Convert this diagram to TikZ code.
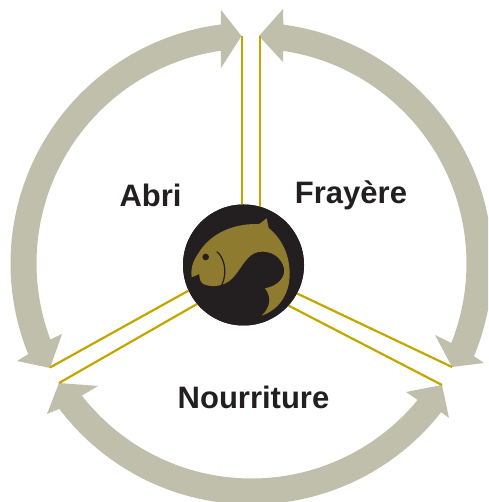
\documentclass[tikz,border=0pt]{standalone}
\usepackage{xcolor}
\usepackage{fontspec}
\setmainfont{Liberation Sans}
\usetikzlibrary{positioning}
\definecolor{ringgrey}{HTML}{BFBFAC}
\definecolor{linegold}{HTML}{C4A600}
\definecolor{fishgold}{HTML}{8E7B2F}
\definecolor{hubblack}{HTML}{231F20}

\begin{document}
\begin{tikzpicture}[
        x=1pt, y=1pt,
        hub/.style={circle, fill=hubblack, minimum size=121pt, inner sep=0pt},
        label/.style={font=\fontsize{31}{36}\selectfont\bfseries, text=hubblack, inner sep=0pt},
        rail/.style={draw=linegold, line width=2.2pt},
        ringarc/.style={fill=ringgrey}
    ]
    \useasboundingbox (0,0) rectangle (488,502);
    \clip (0,0) rectangle (488,502);
    \coordinate (c) at (251.5,238.5);

    % Ring arcs
    \fill[ringarc] (241.5,466) -- (221,492) -- ([shift={(97.3:241)}]c) arc[start angle=97.3, end angle=202.1, radius=241]
        -- (17,141) -- (50,134) -- (62,168) -- ([shift={(200.7:215)}]c) arc[start angle=200.7, end angle=98.2, radius=215]
        -- (221,434) -- cycle;
    \fill[ringarc] (259,466) -- (283,493) -- ([shift={(82.4:241)}]c) arc[start angle=82.4, end angle=-22.6, radius=241]
        -- (484,139) -- (452,135) -- (435,167) -- ([shift={(-21.7:215)}]c) arc[start angle=-21.7, end angle=81.5, radius=215]
        -- (283,440) -- cycle;
    \fill[ringarc] (59,119) -- (98,116) -- ([shift={(217.9:215)}]c) arc[start angle=217.9, end angle=320.6, radius=215]
        -- (406,110) -- (442,117) -- (449,84) -- ([shift={(321.9:241)}]c) arc[start angle=321.9, end angle=217.1, radius=241]
        -- (47,88) -- cycle;

    % Hub and rails
    \coordinate (topa) at (242,466);
    \coordinate (topb) at (260,466);
    \coordinate (lefta) at (50,134.5);
    \coordinate (leftb) at (59,119);
    \coordinate (righta) at (452,135);
    \coordinate (rightb) at (442,117);
    \node[hub] (fishhub) at (243.5,237) {};
    \draw[rail] (topa) -- (fishhub.center -| topa);
    \draw[rail] (topb) -- (fishhub.center -| topb);
    \draw[rail] (lefta) -- (fishhub.205);
    \draw[rail] (leftb) -- (fishhub.220);
    \draw[rail] (righta) -- (fishhub.-28);
    \draw[rail] (rightb) -- (fishhub.-42);
    \node[hub] at (fishhub) {};

    % Fish
    \begin{scope}[shift={(170,302)}, x=0.3333pt, y=-0.3333pt]
        \fill[fishgold] (65,232) .. controls (62,205) and (68,185) .. (85,160)
            .. controls (115,110) and (175,70) .. (268,72)
            -- (290,55) -- (296,84)
            .. controls (335,115) and (360,165) .. (359,225)
            .. controls (358,285) and (325,330) .. (275,347)
            .. controls (298,325) and (308,295) .. (285,265)
            .. controls (325,258) and (347,230) .. (342,205)
            .. controls (335,170) and (300,150) .. (265,156)
            .. controls (230,163) and (215,205) .. (190,232)
            .. controls (165,260) and (125,264) .. (100,252)
            .. controls (90,246) and (88,234) .. (88,222)
            -- cycle;
        \fill[hubblack] (107,171) circle (10);
        \draw[hubblack, line width=1.2pt] (140,155) .. controls (160,168) and (175,215) .. (155,256);
    \end{scope}

    % Labels
    \node[label] (abri) at (150.5,307) {Abri};
    \node[label] (frayere) at (351,307) {Frayère};
    \node[label] (nourriture) at (253.5,105) {Nourriture};
\end{tikzpicture}
\end{document}
